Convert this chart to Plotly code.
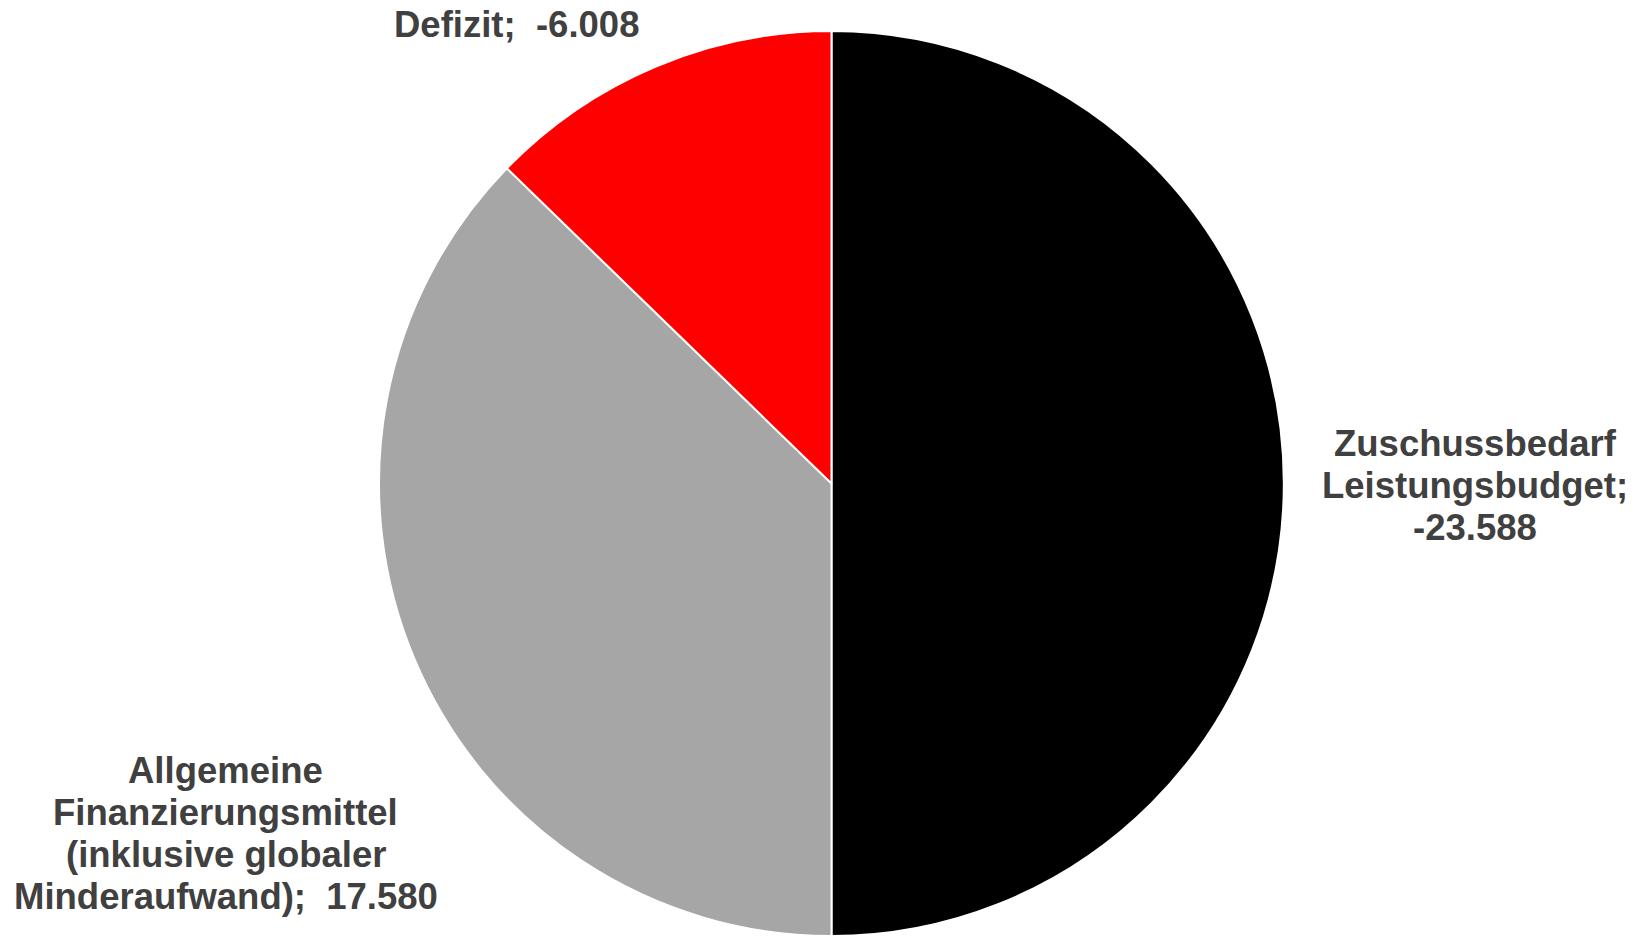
import plotly.graph_objects as go

# ---- data ----
labels = ["Zuschussbedarf Leistungsbudget",
          "Allgemeine Finanzierungsmittel (inklusive globaler Minderaufwand)",
          "Defizit"]
values = [-23588, 17580, -6008]
colors = ["#000000", "#a6a6a6", "#ff0000"]

# label lines as shown on the chart (value appended to the last line)
label_lines = [["Zuschussbedarf", "Leistungsbudget;", ""],
               ["Allgemeine", "Finanzierungsmittel", "(inklusive globaler", "Minderaufwand);\u00a0 "],
               ["Defizit;\u00a0 "]]

# ---- layout constants (pixels in the 1639x936 figure) ----
W, H = 1639, 936
label_x = [1475, 226, 516]
label_first_y = [443, 770, 24]
line_step = 42.3


def de_fmt(v):
    return f"{v:,}".replace(",", ".")


fig = go.Figure(go.Pie(
    labels=labels,
    values=[abs(v) for v in values],
    textinfo="none",
    sort=False,
    direction="clockwise",
    rotation=0,
    marker=dict(colors=colors, line=dict(color="white", width=2)),
    domain=dict(x=[378.5 / W, 1284.5 / W], y=[0, 1 - 31 / H]),
    showlegend=False,
    hoverinfo="label+value",
))

font = dict(family="Liberation Sans, Arial, sans-serif", size=36.5, color="#404040", weight="bold")
annotations = []
for lines, v, x, y0 in zip(label_lines, values, label_x, label_first_y):
    lines = list(lines)
    lines[-1] = lines[-1] + de_fmt(v)
    for i, line in enumerate(lines):
        annotations.append(dict(
            text=line, x=x / W, y=1 - (y0 + i * line_step) / H,
            xref="paper", yref="paper", xanchor="center", yanchor="middle",
            showarrow=False, font=font,
        ))

fig.update_layout(
    width=W, height=H,
    margin=dict(l=0, r=0, t=0, b=0),
    paper_bgcolor="white", plot_bgcolor="white",
    annotations=annotations,
)

fig.write_html("out.html",
               config={"displayModeBar": False},
               post_script="document.body.style.margin='0px';document.body.style.overflow='hidden';")
